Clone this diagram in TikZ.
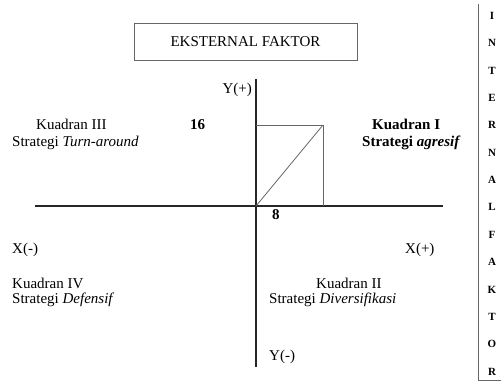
\documentclass[tikz,border=0pt]{standalone}
\usepackage{fontspec}
\setmainfont{Liberation Serif}
\begin{document}
\begin{tikzpicture}[x=1bp,y=-1bp,
  txt/.style={inner sep=0pt,font=\fontsize{15bp}{18bp}\selectfont},
  vlet/.style={inner sep=0pt,font=\fontsize{11bp}{13bp}\selectfont\bfseries},
  axis/.style={line width=1.4bp,draw=black!85},
  thin/.style={line width=0.8bp,draw=black!60}]
\useasboundingbox (0,0) rectangle (501,390);
% title box
\node[thin,draw,minimum width=223bp,minimum height=37bp,inner sep=0pt,
      font=\fontsize{15bp}{18bp}\selectfont] (title) at (245.5,41.5) {EKSTERNAL FAKTOR};
% axes
\coordinate (xl) at (35,206);
\coordinate (xr) at (443,206);
\coordinate (yt) at (256,79);
\coordinate (yb) at (256,367);
\coordinate (o) at (256,206);
\coordinate (tl) at (256,125);
\coordinate (tr) at (323,125);
\coordinate (br) at (323,206);
\draw[axis] (xl) -- (xr);
\draw[axis] (yt) -- (yb);
\draw[thin] (tl) -- (tr) -- (br);
\draw[thin] (o) -- (tr);
% labels
\node[txt,anchor=base east] (yp) at (252,93) {Y(+)};
\node[txt,anchor=base west,font=\fontsize{15bp}{18bp}\selectfont\bfseries] (n16) at (190,129) {16};
\node[txt,anchor=base west] (k3) at (36,129) {Kuadran III};
\node[txt,anchor=base west] (s3) at (12,146) {Strategi \textit{Turn-around}};
\node[txt,anchor=base west,font=\fontsize{15bp}{18bp}\selectfont\bfseries] (k1) at (372,129) {Kuadran I};
\node[txt,anchor=base west,font=\fontsize{15bp}{18bp}\selectfont\bfseries] (s1) at (362,146) {Strategi \textit{agresif}};
\node[txt,anchor=base west,font=\fontsize{15bp}{18bp}\selectfont\bfseries] (n8) at (272,219) {8};
\node[txt,anchor=base west] (xm) at (12,253) {X(-)};
\node[txt,anchor=base west] (xp) at (405,253) {X(+)};
\node[txt,anchor=base west] (k4) at (12,288) {Kuadran IV};
\node[txt,anchor=base west] (s4) at (12,303) {Strategi \textit{Defensif}};
\node[txt,anchor=base west] (k2) at (316,288) {Kuadran II};
\node[txt,anchor=base west] (s2) at (269,303) {Strategi \textit{Diversifikasi}};
\node[txt,anchor=base west] (ym) at (269,360) {Y(-)};
% internal faktor column
\coordinate (rt) at (478.5,4);
\coordinate (rb) at (478.5,380);
\coordinate (re) at (501,380);
\draw[thin] (rt) -- (rb) -- (re);
\foreach \l [count=\i from 0] in {I,N,T,E,R,N,A,L,F,A,K,T,O,R}{
  \node[vlet,anchor=base] (v\i) at (492,{19.5+\i*27.35}) {\l};
}
\end{tikzpicture}
\end{document}
